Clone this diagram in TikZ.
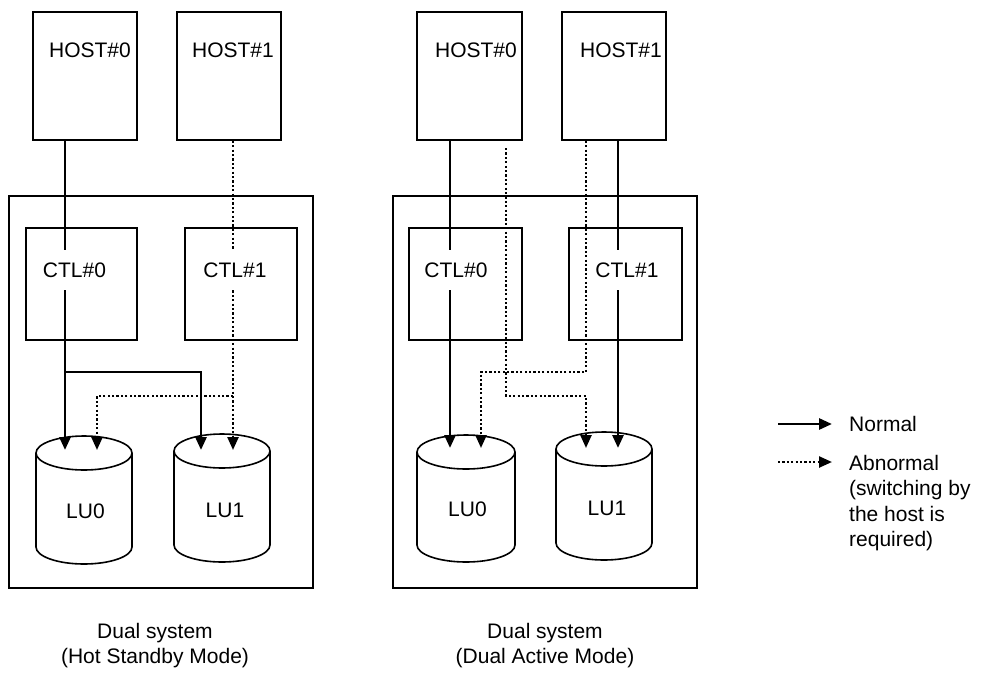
\documentclass[tikz,border=0pt]{standalone}
\usepackage{fontspec}
\setmainfont{Liberation Sans}
\usetikzlibrary{arrows.meta}
\newcommand\lucyl[4]{%
  \draw[cyl] (#1-#4,#2) -- (#1-#4,#3) arc[start angle=180,end angle=360,x radius=#4pt,y radius=17pt] -- (#1+#4,#2);
  \draw[cyl] (#1,#2) ellipse[x radius=#4pt,y radius=17pt];}
\begin{document}
\begin{tikzpicture}[x=1pt,y=-1pt,
  box/.style={draw, line width=1.6pt, inner sep=0pt},
  cyl/.style={draw, line width=1.6pt},
  lbl/.style={inner sep=0pt, font=\fontsize{21}{25}\selectfont},
  ctl/.style={fill=white, inner xsep=3pt, inner ysep=12.5pt, font=\fontsize{21}{25}\selectfont},
  nline/.style={line width=2.8pt, -{Triangle[length=13pt,width=11pt]}},
  dline/.style={line width=2.4pt, dash pattern=on 2.2pt off 2.2pt, -{Triangle[length=13pt,width=11pt]}}]
\useasboundingbox[fill=white] (0,0) rectangle (997,673);

% ---------- left panel ----------
\node[box, minimum width=104pt, minimum height=128pt] (lh0) at (85,76) {};
\node[box, minimum width=104pt, minimum height=128pt] (lh1) at (229,76) {};
\node[box, minimum width=304pt, minimum height=392pt] (lout) at (161,392) {};
\node[box, minimum width=111pt, minimum height=112pt] (lc0) at (81.5,284) {};
\node[box, minimum width=112pt, minimum height=112pt] (lc1) at (241,284) {};
\node[lbl] (lh0t) at (90,50) {HOST\#0};
\node[lbl] (lh1t) at (233,50) {HOST\#1};
\lucyl{84}{453}{547}{48}
\lucyl{222}{451}{545}{48}
\node[lbl] (lu0) at (85.5,511) {LU0};
\node[lbl] (lu1) at (225,510) {LU1};
\coordinate (la0) at (65,450);
\coordinate (la1) at (97,450);
\coordinate (la2) at (201,450);
\coordinate (la3) at (233,450);
\draw[nline] (65,0 |- lh0.south) -- (la0);
\draw[nline] (65,372) -| (la2);
\draw[dline] (233,0 |- lh1.south) -- (la3);
\draw[dline] (233,396) -| (la1);
\node[ctl] (lc0t) at (74.5,270) {CTL\#0};
\node[ctl] (lc1t) at (235,270) {CTL\#1};
\node[lbl, align=center, font=\fontsize{21}{25}\selectfont] (lcap) at (155,646) {Dual system\\(Hot Standby Mode)};

% ---------- right panel ----------
\node[box, minimum width=105pt, minimum height=128pt] (rh0) at (469.5,76) {};
\node[box, minimum width=104pt, minimum height=128pt] (rh1) at (614,76) {};
\node[box, minimum width=304pt, minimum height=392pt] (rout) at (545,392) {};
\node[box, minimum width=113pt, minimum height=112pt] (rc0) at (465.5,284) {};
\node[box, minimum width=113pt, minimum height=112pt] (rc1) at (625.5,284) {};
\node[lbl] (rh0t) at (476,50) {HOST\#0};
\node[lbl] (rh1t) at (621,50) {HOST\#1};
\lucyl{466}{452}{545}{49}
\lucyl{604}{449}{543}{48}
\node[lbl] (ru0) at (467.5,509) {LU0};
\node[lbl] (ru1) at (607,508) {LU1};
\coordinate (ra0) at (450,448);
\coordinate (ra1) at (481,448);
\coordinate (ra2) at (586,448);
\coordinate (ra3) at (618,448);
\coordinate (rd0) at (506,148);
\draw[nline] (450,0 |- rh0.south) -- (ra0);
\draw[nline] (618,0 |- rh1.south) -- (ra3);
\draw[dline] (rd0) -- (506,396) -| (ra2);
\draw[dline] (586,0 |- rh1.south) -- (586,372) -| (ra1);
\node[ctl] (rc0t) at (456,270) {CTL\#0};
\node[ctl] (rc1t) at (627,270) {CTL\#1};
\node[lbl, align=center, font=\fontsize{21}{25}\selectfont] (rcap) at (545,646) {Dual system\\(Dual Active Mode)};

% ---------- legend ----------
\coordinate (ln0) at (778,424);
\coordinate (ln1) at (832,424);
\coordinate (ld0) at (778,462);
\coordinate (ld1) at (832,462);
\draw[nline] (ln0) -- (ln1);
\draw[dline] (ld0) -- (ld1);
\node[lbl, anchor=west] (lgn) at (849,424) {Normal};
\node[lbl, anchor=north west, align=left, font=\fontsize{21}{25.5}\selectfont] (lga) at (849,455)
  {Abnormal\\(switching by\\the host is\\required)};
\end{tikzpicture}
\end{document}
